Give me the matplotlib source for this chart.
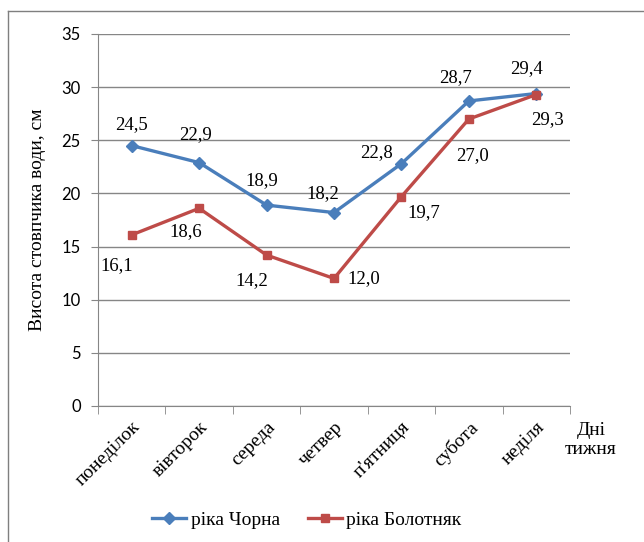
import matplotlib.pyplot as plt
from matplotlib.lines import Line2D

days = ["понеділок", "вівторок", "середа", "четвер", "п'ятниця", "субота", "неділя"]
chorna = [24.5, 22.9, 18.9, 18.2, 22.8, 28.7, 29.4]
bolotnyak = [16.1, 18.6, 14.2, 12.0, 19.7, 27.0, 29.3]
y_ticks = [0, 5, 10, 15, 20, 25, 30, 35]

BLUE = "#4A7EBB"
RED = "#BE4B48"
GRID = "#868686"
SERIF = "Liberation Serif"

# label offsets in pixels
chorna_off = [(0, 21), (-4, 28), (-5, 25), (-11, 19), (-25, 11), (-13, 23), (-10, 25)]
bolot_off = [(-15, -31), (-13, -23), (-15, -26), (30, 0), (22, -16), (4, -37), (11, -25)]

fig = plt.figure(figsize=(6.44, 5.42), dpi=100)
W, H = 644, 542
ax = fig.add_axes([98 / W, 1 - 406 / H, 472 / W, 372 / H])

x = list(range(len(days)))
ax.plot(x, chorna, color=BLUE, lw=2.4, marker="D", ms=6, label="ріка Чорна", zorder=3)
ax.plot(x, bolotnyak, color=RED, lw=2.4, marker="s", ms=5.5, label="ріка Болотняк", zorder=3)

def fmt(v):
    return f"{v:.1f}".replace(".", ",")

for xi, v, off in zip(x, chorna, chorna_off):
    ax.annotate(fmt(v), (xi, v), xytext=off, textcoords="offset pixels",
                ha="center", va="center", fontsize=13.5, family=SERIF)
for xi, v, off in zip(x, bolotnyak, bolot_off):
    ax.annotate(fmt(v), (xi, v), xytext=off, textcoords="offset pixels",
                ha="center", va="center", fontsize=13.5, family=SERIF)

ax.set_xlim(-0.5, len(days) - 0.5)
ax.set_ylim(0, 35)
ax.set_yticks(y_ticks)
ax.yaxis.grid(True, color=GRID, lw=1)
ax.set_axisbelow(True)
for s in ["top", "right"]:
    ax.spines[s].set_visible(False)
for s in ["left", "bottom"]:
    ax.spines[s].set_color(GRID)
ax.tick_params(axis="y", length=5, color=GRID, labelsize=12, pad=7.5)
for lbl in ax.get_yticklabels():
    lbl.set_family("Lato")

ax.set_xticks(x)
ax.set_xticklabels(days, rotation=45, ha="right", rotation_mode="anchor",
                   family=SERIF, fontsize=14)
ax.tick_params(axis="x", which="major", length=0, pad=9)
ax.set_xticks([i - 0.5 for i in range(len(days) + 1)], minor=True)
ax.tick_params(axis="x", which="minor", length=6, color=GRID)

ax.set_ylabel("Висота стовпчика води, см", family=SERIF, fontsize=14, labelpad=11)
fig.text(591 / W, 1 - 440 / H, "Дні\nтижня", ha="center", va="center",
         family=SERIF, fontsize=14, linespacing=1.1)

ax.legend(loc="center", bbox_to_anchor=(307 / W, 1 - 520 / H), bbox_transform=fig.transFigure,
          ncol=2, frameon=False, prop={"family": SERIF, "size": 14},
          handlelength=1.75, handletextpad=0.25, columnspacing=1.4)

# outer chart border
fig.add_artist(Line2D([8 / W, 1], [1 - 11 / H, 1 - 11 / H], color="#7f7f7f", lw=1))
fig.add_artist(Line2D([8 / W, 8 / W], [1 - 11 / H, 0], color="#7f7f7f", lw=1))

fig.savefig("out.png", dpi=100)
